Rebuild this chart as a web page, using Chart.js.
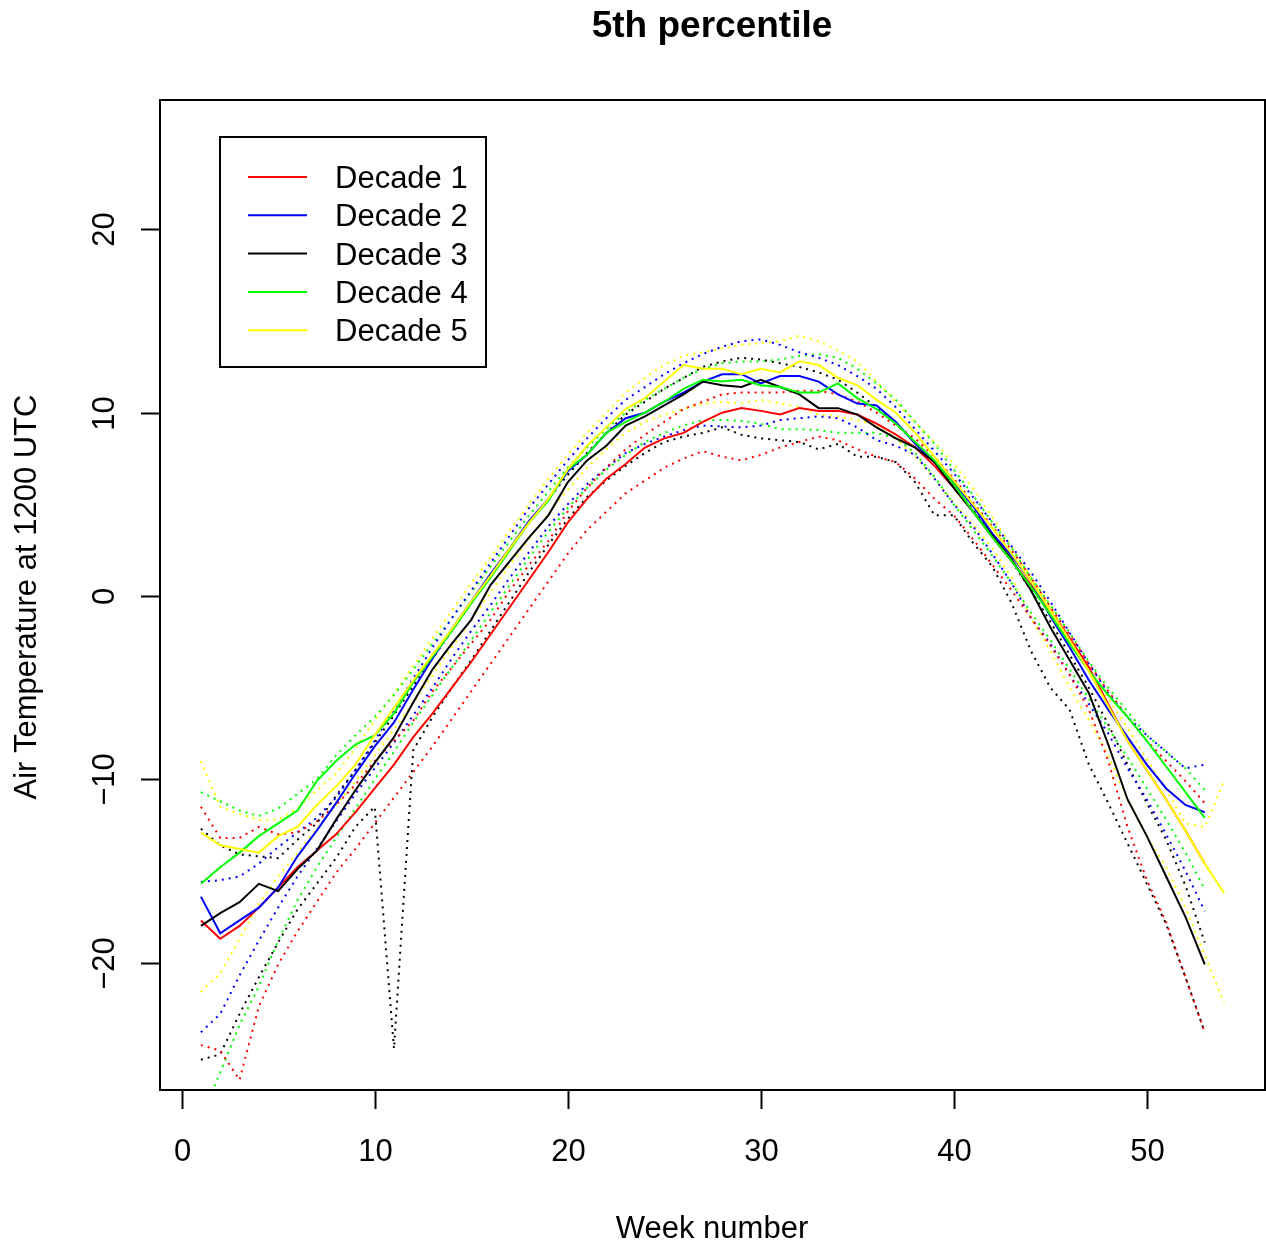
<!DOCTYPE html>
<html>
<head>
<meta charset="utf-8">
<title>5th percentile</title>
<script src="https://cdn.jsdelivr.net/npm/chart.js@4.4.1/dist/chart.umd.min.js"></script>
<style>
html, body { margin: 0; padding: 0; background: #fff; }
#wrap { width: 1266px; height: 1245px; }
</style>
</head>
<body>
<div id="wrap"><canvas id="pct5" width="1266" height="1245"></canvas></div>
<script>
// week numbers (decade 5 has one extra week)
const weeks = [1,2,3,4,5,6,7,8,9,10,11,12,13,14,15,16,17,18,19,20,21,22,23,24,25,26,27,
  28,29,30,31,32,33,34,35,36,37,38,39,40,41,42,43,44,45,46,47,48,49,50,51,52,53,54];

const decadeNames = ["Decade 1", "Decade 2", "Decade 3", "Decade 4", "Decade 5"];
const decadeColors = ["#ff0000", "#0000ff", "#000000", "#00ff00", "#ffff00"];

const xTicks = [0, 10, 20, 30, 40, 50];
const yTicks = [-20, -10, 0, 10, 20];

// Decade 1
const d1 = [-17.7,-18.7,-18.0,-17.0,-15.9,-14.8,-13.9,-13.0,-11.8,-10.5,
  -9.2,-7.7,-6.4,-5.0,-3.6,-2.1,-0.6,0.9,2.4,4.0,
  5.3,6.4,7.2,8.1,8.6,8.9,9.5,10.0,10.25,10.1,
  9.9,10.25,10.1,10.1,9.9,9.4,8.8,8.1,7.1,5.9,
  4.6,3.2,1.9,0.6,-0.8,-2.3,-3.9,-5.9,-7.9,-9.5,
  -11.1,-12.8,-14.6];
const d1Upper = [-11.5,-13.2,-13.2,-12.6,-13.0,-12.9,-12.3,-11.4,-10.3,-9.0,
  -7.9,-6.8,-5.2,-3.9,-2.6,-1.3,0.3,1.7,3.0,4.6,
  5.9,7.0,8.0,8.8,9.5,10.2,10.6,11.0,11.1,11.1,
  11.1,11.2,11.2,11.0,10.6,10.0,9.3,8.6,7.6,6.4,
  5.1,3.8,2.5,1.0,-0.6,-2.1,-3.7,-5.2,-6.6,-7.9,
  -9.0,-10.1,-11.3];
const d1Lower = [-24.5,-24.8,-26.4,-22.4,-20.1,-18.3,-16.7,-15.1,-13.8,-12.4,
  -11.0,-9.6,-8.2,-6.7,-5.2,-3.7,-2.2,-0.7,0.8,2.3,
  3.6,4.6,5.6,6.3,7.0,7.5,7.9,7.6,7.4,7.7,
  8.1,8.4,8.7,8.5,8.0,7.6,7.3,6.4,5.3,4.4,
  3.1,1.7,0.3,-1.2,-2.7,-4.3,-6.2,-9.0,-12.6,-15.5,
  -17.8,-20.8,-23.8];

// Decade 2
const d2 = [-16.4,-18.4,-17.7,-17.0,-15.9,-14.2,-12.8,-11.3,-9.7,-8.2,
  -6.9,-5.1,-3.4,-1.8,-0.3,1.2,2.6,4.1,5.3,6.8,
  7.7,8.9,9.7,10.0,10.6,11.1,11.7,12.1,12.1,11.6,
  12.0,12.0,11.7,11.0,10.5,10.4,9.5,8.3,7.3,6.2,
  4.9,3.4,2.2,0.8,-1.1,-2.8,-4.6,-6.2,-7.7,-9.2,
  -10.5,-11.4,-11.8];
const d2Upper = [-15.6,-15.5,-15.3,-14.6,-13.7,-12.9,-12.1,-11.0,-9.5,-7.9,
  -6.2,-4.5,-2.8,-1.2,0.3,1.8,3.3,4.8,6.1,7.4,
  8.6,9.7,10.7,11.4,12.1,12.7,13.2,13.6,13.9,14.0,
  13.7,13.3,13.0,12.6,12.0,11.3,10.3,9.1,7.9,6.7,
  5.4,4.0,2.7,1.3,-0.3,-2.0,-3.7,-5.3,-6.6,-7.6,
  -8.5,-9.4,-9.2];
const d2Lower = [-23.8,-22.8,-20.7,-18.8,-17.0,-15.3,-13.8,-12.3,-10.8,-9.4,
  -8.0,-6.5,-5.0,-3.4,-1.9,-0.5,1.0,2.4,3.8,5.0,
  6.1,7.0,7.8,8.3,8.7,9.05,9.3,9.25,9.2,9.3,
  9.6,9.7,9.8,9.7,9.2,8.5,8.2,7.7,6.4,5.0,
  3.8,2.3,0.7,-1.2,-2.6,-4.3,-5.9,-7.5,-9.4,-11.1,
  -13.0,-15.0,-17.2];

// Decade 3
const d3 = [-18.0,-17.3,-16.7,-15.7,-16.1,-14.9,-13.9,-12.2,-10.6,-9.1,
  -7.7,-5.8,-4.0,-2.6,-1.3,0.6,1.9,3.2,4.4,6.2,
  7.4,8.2,9.3,9.8,10.4,11.0,11.7,11.5,11.4,11.8,
  11.4,11.0,10.25,10.25,9.9,9.2,8.6,8.1,7.3,5.9,
  4.6,3.3,2.0,0.3,-1.7,-3.5,-5.3,-8.1,-11.1,-13.1,
  -15.3,-17.5,-20.1];
const d3Upper = [-12.7,-13.6,-14.1,-14.2,-14.3,-13.3,-12.4,-10.9,-9.5,-8.0,
  -6.5,-4.9,-3.4,-1.9,-0.4,1.1,2.6,4.0,5.3,6.6,
  7.8,8.9,9.9,10.6,11.3,11.9,12.5,12.8,13.0,12.9,
  12.7,12.5,12.2,11.8,11.1,10.3,9.4,8.4,7.3,6.0,
  4.7,3.3,1.9,0.3,-1.4,-3.2,-5.0,-7.0,-9.2,-11.3,
  -13.3,-15.8,-18.9];
const d3Lower = [-25.3,-25.0,-22.8,-20.8,-18.9,-17.1,-15.7,-14.3,-12.6,-11.5,
  -24.7,-8.4,-6.6,-5.0,-3.5,-1.9,-0.3,1.3,2.8,4.2,
  5.4,6.3,7.1,7.8,8.4,8.7,8.9,9.2,8.8,8.6,
  8.5,8.4,8.0,8.3,7.6,7.6,7.3,6.2,4.4,4.4,
  2.9,1.6,-0.4,-3.0,-5.0,-6.2,-9.2,-11.3,-13.5,-15.7,
  -17.9,-20.8,-23.8];

// Decade 4
const d4 = [-15.7,-14.8,-14.0,-13.1,-12.4,-11.7,-10.1,-9.0,-8.1,-7.6,
  -6.4,-4.7,-3.3,-1.9,-0.4,1.0,2.5,4.0,5.2,6.9,
  7.7,8.9,9.5,10.0,10.6,11.3,11.8,11.7,11.8,11.5,
  11.4,11.1,11.1,11.6,10.8,10.2,9.4,8.4,7.4,6.1,
  4.6,3.2,1.9,0.5,-1.0,-2.6,-4.1,-5.4,-6.6,-7.9,
  -9.3,-10.7,-12.1];
const d4Upper = [-10.7,-11.2,-11.7,-12.0,-11.6,-10.8,-10.0,-8.7,-7.6,-6.6,
  -5.4,-4.0,-2.6,-1.2,0.2,1.6,3.0,4.4,5.7,7.0,
  8.1,9.1,10.0,10.7,11.3,11.9,12.4,12.7,12.8,12.8,
  12.9,13.1,13.2,13.0,12.4,11.6,10.7,9.5,8.3,6.9,
  5.5,4.0,2.6,1.0,-0.5,-2.0,-3.6,-5.0,-6.3,-7.6,
  -8.5,-9.4,-10.6];
const d4Lower = [-28.5,-26.0,-23.4,-21.3,-18.8,-16.6,-14.8,-13.2,-11.6,-10.0,
  -8.5,-6.9,-5.4,-3.9,-2.4,-0.9,0.6,2.1,3.5,4.8,
  5.9,6.9,7.7,8.4,8.9,9.3,9.6,9.6,9.55,9.4,
  9.1,9.1,9.05,8.9,8.9,8.9,8.6,7.8,6.5,5.0,
  3.6,2.2,0.7,-0.9,-2.4,-4.0,-5.6,-7.2,-8.8,-10.5,
  -12.2,-14.0,-16.0];

// Decade 5
const d5 = [-12.9,-13.6,-13.8,-14.0,-13.1,-12.6,-11.4,-10.4,-9.2,-7.6,
  -6.1,-4.6,-3.2,-1.8,-0.3,1.1,2.6,4.0,5.3,6.9,
  8.2,9.2,10.2,10.8,11.7,12.6,12.4,12.4,12.1,12.4,
  12.2,12.8,12.6,11.9,11.5,10.7,10.0,8.9,7.6,6.3,
  5.0,3.7,2.3,0.8,-0.8,-2.4,-4.1,-6.0,-7.9,-9.5,
  -11.1,-12.8,-14.6,-16.2];
const d5Upper = [-9.0,-11.5,-11.9,-12.2,-12.2,-11.6,-10.6,-9.7,-8.3,-6.8,
  -5.3,-3.8,-2.3,-0.8,0.7,2.1,3.6,5.0,6.4,7.7,
  8.9,10.0,11.1,11.9,12.6,13.1,13.3,13.5,13.7,13.8,
  13.9,14.2,13.9,13.4,12.8,11.7,10.6,9.5,8.4,7.2,
  5.9,4.3,2.7,1.0,-0.6,-2.3,-4.0,-5.6,-7.2,-8.9,
  -10.6,-12.4,-12.6,-10.1];
const d5Lower = [-21.6,-20.6,-18.7,-16.8,-15.3,-14.0,-12.7,-11.4,-10.1,-8.7,
  -7.3,-5.8,-4.3,-2.8,-1.3,0.2,1.7,3.1,4.5,5.8,
  7.0,8.0,8.9,9.5,9.9,10.2,10.5,10.6,10.5,10.7,
  10.5,10.3,9.9,9.8,9.6,9.3,8.6,7.6,6.4,5.1,
  3.9,2.6,1.0,-1.2,-3.0,-5.0,-6.8,-8.7,-11.1,-13.1,
  -14.8,-17.0,-19.6,-22.2];

const solidSeries = [d1, d2, d3, d4, d5];
const upperSeries = [d1Upper, d2Upper, d3Upper, d4Upper, d5Upper];
const lowerSeries = [d1Lower, d2Lower, d3Lower, d4Lower, d5Lower];

function toPoints(vals) {
  return vals.map((v, i) => ({ x: weeks[i], y: v }));
}

const FONT = '"Liberation Sans", Arial, Helvetica, sans-serif';

let datasets = [];
decadeNames.forEach((name, i) => {
  // dotted bounds drawn first
  [upperSeries[i], lowerSeries[i]].forEach(vals => {
    datasets.push({
      label: name + " bound",
      data: toPoints(vals),
      borderColor: decadeColors[i],
      borderWidth: 2,
      borderDash: [2, 5],
      borderCapStyle: "butt",
      pointRadius: 0,
      tension: 0,
      order: 20 + i
    });
  });
  datasets.push({
    label: name,
    data: toPoints(solidSeries[i]),
    borderColor: decadeColors[i],
    borderWidth: 2,
    pointRadius: 0,
    tension: 0,
    order: 10 - i
  });
});

// R style box, axes, labels and legend
const rPlot = {
  id: "rPlot",
  afterDraw(chart) {
    const ctx = chart.ctx;
    const area = chart.chartArea;
    const xs = chart.scales.x;
    const ys = chart.scales.y;
    ctx.save();
    ctx.strokeStyle = "#000";
    ctx.fillStyle = "#000";
    ctx.lineWidth = 2;
    ctx.strokeRect(area.left, area.top, area.right - area.left, area.bottom - area.top);

    // x axis
    ctx.font = "31px " + FONT;
    ctx.textAlign = "center";
    ctx.textBaseline = "alphabetic";
    xTicks.forEach(v => {
      const px = Math.round(xs.getPixelForValue(v)) + 0.5;
      ctx.beginPath();
      ctx.moveTo(px, area.bottom);
      ctx.lineTo(px, area.bottom + 19);
      ctx.stroke();
      ctx.fillText(String(v), px, 1161);
    });

    // y axis
    yTicks.forEach(v => {
      const py = Math.round(ys.getPixelForValue(v)) + 0.5;
      ctx.beginPath();
      ctx.moveTo(area.left, py);
      ctx.lineTo(area.left - 19, py);
      ctx.stroke();
      ctx.save();
      ctx.translate(114, py);
      ctx.rotate(-Math.PI / 2);
      ctx.fillText(v < 0 ? "\u2212" + Math.abs(v) : String(v), 0, 0);
      ctx.restore();
    });

    // titles
    ctx.font = "bold 37px " + FONT;
    ctx.fillText("5th percentile", 712, 37);
    ctx.font = "31px " + FONT;
    ctx.fillText("Week number", 712, 1238);
    ctx.save();
    ctx.translate(36, 597);
    ctx.rotate(-Math.PI / 2);
    ctx.fillText("Air Temperature at 1200 UTC", 0, 0);
    ctx.restore();

    // legend
    ctx.fillStyle = "#fff";
    ctx.fillRect(220, 137, 266, 230);
    ctx.strokeStyle = "#000";
    ctx.lineWidth = 2;
    ctx.strokeRect(220, 137, 266, 230);
    ctx.textAlign = "left";
    decadeNames.forEach((name, i) => {
      const ly = 177 + i * 38.3;
      ctx.strokeStyle = decadeColors[i];
      ctx.lineWidth = 2;
      ctx.beginPath();
      ctx.moveTo(248, ly);
      ctx.lineTo(307, ly);
      ctx.stroke();
      ctx.fillStyle = "#000";
      ctx.fillText(name, 335, ly + 11);
    });
    ctx.restore();
  }
};

new Chart(document.getElementById("pct5").getContext("2d"), {
  type: "line",
  data: { datasets: datasets },
  options: {
    responsive: false,
    animation: false,
    events: [],
    layout: { padding: { left: 160, top: 100, right: 1, bottom: 155 } },
    plugins: {
      legend: { display: false },
      tooltip: { enabled: false },
      title: { display: false }
    },
    scales: {
      x: { type: "linear", min: -1.12, max: 56.12, bounds: "data", display: false },
      y: { type: "linear", min: -26.95, max: 27.06, bounds: "data", display: false }
    }
  },
  plugins: [rPlot]
});
</script>
</body>
</html>
